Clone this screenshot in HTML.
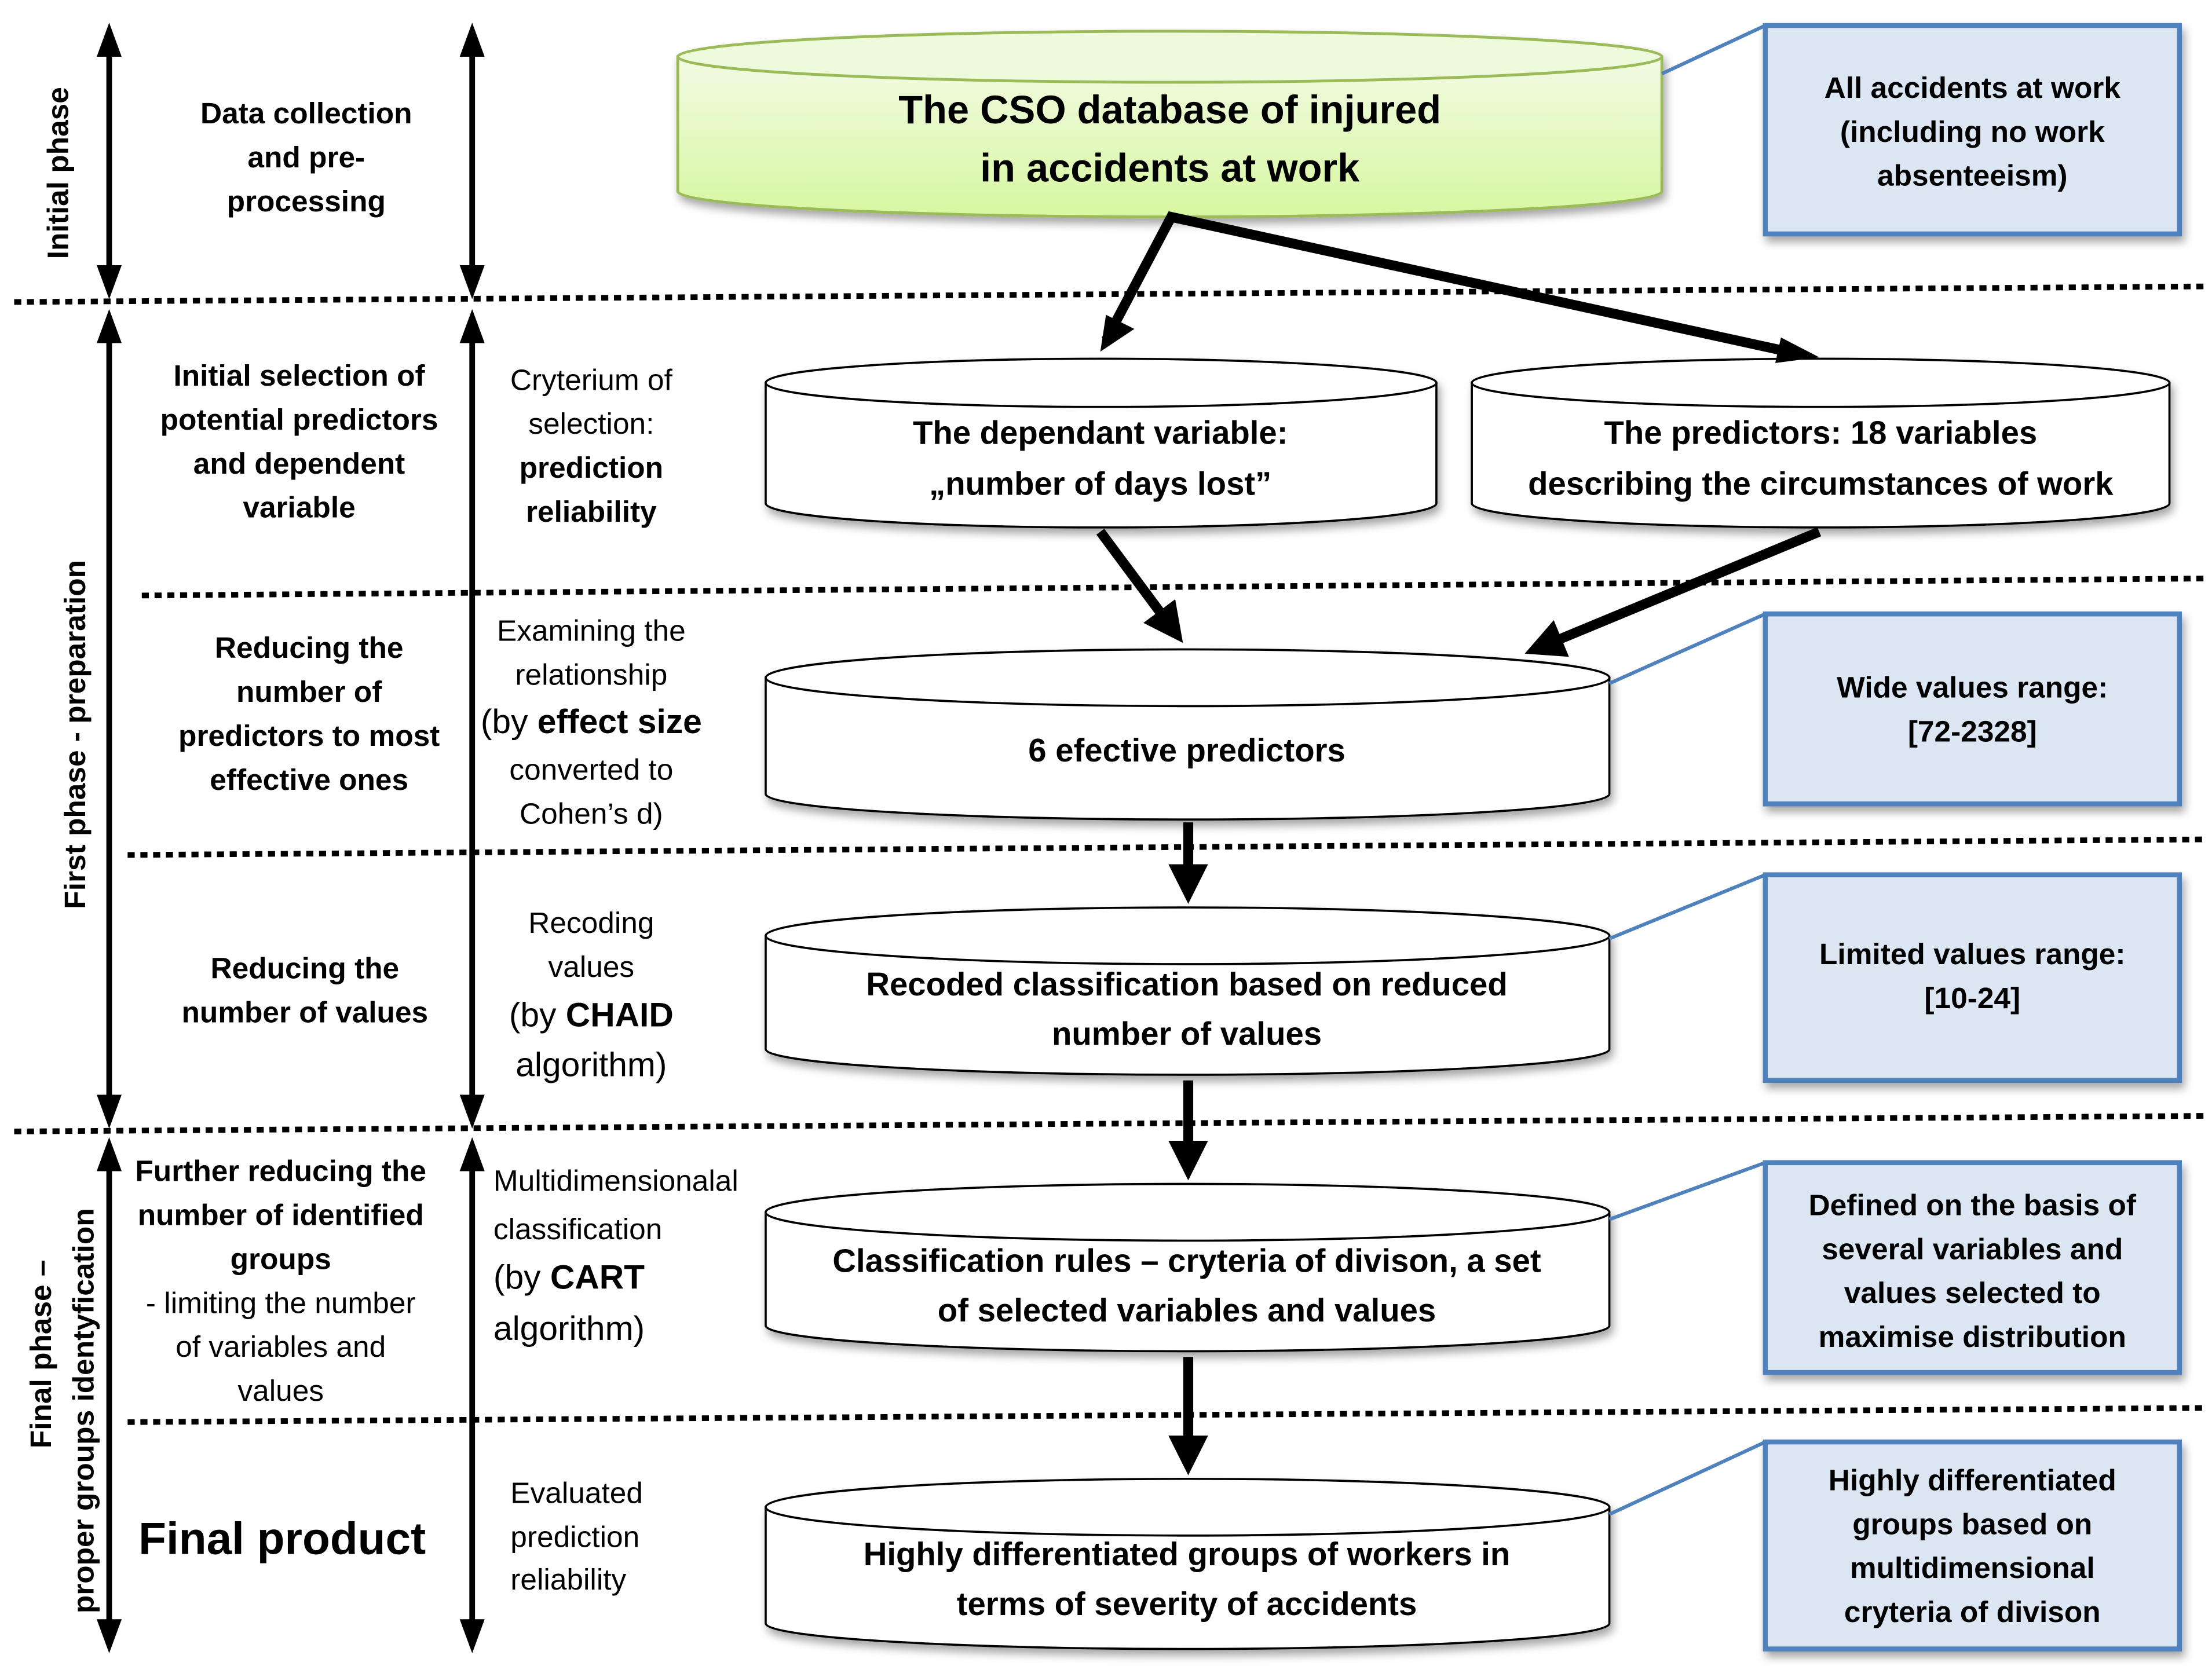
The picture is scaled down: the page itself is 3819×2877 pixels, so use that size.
<!DOCTYPE html>
<html><head><meta charset="utf-8"><style>
html,body{margin:0;padding:0;background:#fff}
svg{display:block}
text{font-family:"Liberation Sans",sans-serif;fill:#000}
.b{font-weight:bold}
</style></head><body>
<svg width="3819" height="2877" viewBox="0 0 1560 1175" preserveAspectRatio="none" xmlns="http://www.w3.org/2000/svg">
<defs>
<linearGradient id="g" x1="0" y1="0" x2="0" y2="1"><stop offset="0" stop-color="#f2fbe4"/><stop offset="1" stop-color="#d7f7a0"/></linearGradient>
<marker id="ah" markerWidth="4" markerHeight="4" refX="2.5" refY="2" orient="auto" markerUnits="strokeWidth"><path d="M0,0 L4,2 L0,4 z" fill="#000"/></marker>
<marker id="vh" markerWidth="6" markerHeight="6" refX="4" refY="3" orient="auto-start-reverse" markerUnits="strokeWidth"><path d="M0,0.8 L6,3 L0,5.2 z" fill="#000"/></marker>
<filter id="sh" x="-5%" y="-10%" width="110%" height="130%"><feDropShadow dx="2" dy="4" stdDeviation="3" flood-opacity="0.35"/></filter>
</defs>

<g stroke="#000" stroke-width="4" stroke-dasharray="5 4" fill="none">
<line x1="10" y1="213" x2="1555" y2="202"/>
<line x1="100" y1="420" x2="1555" y2="408"/>
<line x1="90" y1="603" x2="1555" y2="592"/>
<line x1="10" y1="798" x2="1555" y2="787"/>
<line x1="90" y1="1003" x2="1555" y2="993"/>
</g>

<g stroke="#000" stroke-width="4" fill="none">
<line x1="77" y1="24" x2="77" y2="203" marker-start="url(#vh)" marker-end="url(#vh)"/>
<line x1="77" y1="226" x2="77" y2="788" marker-start="url(#vh)" marker-end="url(#vh)"/>
<line x1="77" y1="810" x2="77" y2="1158" marker-start="url(#vh)" marker-end="url(#vh)"/>
<line x1="333" y1="24" x2="333" y2="203" marker-start="url(#vh)" marker-end="url(#vh)"/>
<line x1="333" y1="226" x2="333" y2="788" marker-start="url(#vh)" marker-end="url(#vh)"/>
<line x1="333" y1="810" x2="333" y2="1158" marker-start="url(#vh)" marker-end="url(#vh)"/>
</g>

<text class="b" font-size="21" text-anchor="middle" transform="translate(48,122) rotate(-90)">Initial phase</text>
<text class="b" font-size="21" text-anchor="middle" transform="translate(60,518) rotate(-90)">First phase - preparation</text>
<text class="b" font-size="21" text-anchor="middle" transform="translate(36,955) rotate(-90)">Final phase –</text>
<text class="b" font-size="21" text-anchor="middle" transform="translate(66,995) rotate(-90)">proper groups identyfication</text>

<g class="b" font-size="21" text-anchor="middle">
<text x="216" y="87">Data collection</text><text x="216" y="118">and pre-</text><text x="216" y="149">processing</text>
<text x="211" y="272">Initial selection of</text><text x="211" y="303">potential predictors</text><text x="211" y="334">and dependent</text><text x="211" y="365">variable</text>
<text x="218" y="464">Reducing the</text><text x="218" y="495">number of</text><text x="218" y="526">predictors to most</text><text x="218" y="557">effective ones</text>
<text x="215" y="690">Reducing the</text><text x="215" y="721">number of values</text>
<text x="198" y="833">Further reducing the</text><text x="198" y="864">number of identified</text><text x="198" y="895">groups</text>
</g>
<g font-size="21" text-anchor="middle">
<text x="198" y="926">- limiting the number</text><text x="198" y="957">of variables and</text><text x="198" y="988">values</text>
</g>
<text class="b" x="199" y="1096" font-size="32" text-anchor="middle">Final product</text>

<g font-size="21" text-anchor="middle">
<text x="417" y="275">Cryterium of</text><text x="417" y="306">selection:</text>
<text x="417" y="337" class="b">prediction</text><text x="417" y="368" class="b">reliability</text>
<text x="417" y="452">Examining the</text><text x="417" y="483">relationship</text>
<text x="417" y="517" font-size="24">(by <tspan class="b">effect size</tspan></text>
<text x="417" y="550">converted to</text><text x="417" y="581">Cohen’s d)</text>
<text x="417" y="658">Recoding</text><text x="417" y="689">values</text>
<text x="417" y="724" font-size="24">(by <tspan class="b">CHAID</tspan></text>
<text x="417" y="759" font-size="24">algorithm)</text>
</g>
<g font-size="21">
<text x="348" y="840">Multidimensionalal</text><text x="348" y="874">classification</text>
<text x="348" y="909" font-size="24">(by <tspan class="b">CART</tspan></text>
<text x="348" y="945" font-size="24">algorithm)</text>
<text x="360" y="1060">Evaluated</text><text x="360" y="1091">prediction</text><text x="360" y="1121">reliability</text>
</g>

<g filter="url(#sh)">
<path d="M478,40 L478,135 A347,18 0 0 0 1172,135 L1172,40 Z" fill="url(#g)" stroke="#9bbb59" stroke-width="2"/>
<ellipse cx="825" cy="40" rx="347" ry="18" fill="#eefadc" stroke="#9bbb59" stroke-width="2"/>
</g>
<g fill="#fff" stroke="#000" stroke-width="1.5" filter="url(#sh)">
<path d="M540,270 L540,355 A236.5,17 0 0 0 1013,355 L1013,270 Z"/><ellipse cx="776.5" cy="270" rx="236.5" ry="17"/>
<path d="M1038,270 L1038,355 A246,17 0 0 0 1530,355 L1530,270 Z"/><ellipse cx="1284" cy="270" rx="246" ry="17"/>
<path d="M540,478 L540,560 A297.5,18 0 0 0 1135,560 L1135,478 Z"/><ellipse cx="837.5" cy="478" rx="297.5" ry="20"/>
<path d="M540,660 L540,740 A297.5,18 0 0 0 1135,740 L1135,660 Z"/><ellipse cx="837.5" cy="660" rx="297.5" ry="20"/>
<path d="M540,855 L540,935 A297.5,18 0 0 0 1135,935 L1135,855 Z"/><ellipse cx="837.5" cy="855" rx="297.5" ry="20"/>
<path d="M540,1063 L540,1145 A297.5,18 0 0 0 1135,1145 L1135,1063 Z"/><ellipse cx="837.5" cy="1063" rx="297.5" ry="20"/>
</g>
<g class="b" text-anchor="middle">
<text x="825" y="87" font-size="28">The CSO database of injured</text>
<text x="825" y="128" font-size="28">in accidents at work</text>
<text x="776" y="313" font-size="23">The dependant variable:</text>
<text x="776" y="349" font-size="23">„number of days lost”</text>
<text x="1284" y="313" font-size="23">The predictors: 18 variables</text>
<text x="1284" y="349" font-size="23">describing the circumstances of work</text>
<text x="837" y="537" font-size="23">6 efective predictors</text>
<text x="837" y="702" font-size="23">Recoded classification  based on reduced</text>
<text x="837" y="737" font-size="23">number of values</text>
<text x="837" y="897" font-size="23">Classification rules – cryteria of divison, a set</text>
<text x="837" y="932" font-size="23">of selected variables and values</text>
<text x="837" y="1104" font-size="23">Highly differentiated groups of workers in</text>
<text x="837" y="1139" font-size="23">terms of severity of accidents</text>
</g>

<g stroke="#000" stroke-width="7" fill="none">
<polyline points="780,240 826,153 1270,250" stroke-linejoin="miter" fill="none"/>
<line x1="776" y1="375" x2="828" y2="445" marker-end="url(#ah)"/>
<line x1="1283" y1="375" x2="1085" y2="457" marker-end="url(#ah)"/>
<line x1="838" y1="580" x2="838" y2="627" marker-end="url(#ah)"/>
<line x1="838" y1="762" x2="838" y2="822" marker-end="url(#ah)"/>
<line x1="838" y1="957" x2="838" y2="1030" marker-end="url(#ah)"/>
</g>
<path d="M776,248 L780,222 L800,232 Z" fill="#000"/>
<path d="M1283,252 L1256,238 L1252,256 Z" fill="#000"/>

<g stroke="#4f81bd" stroke-width="2.5">
<line x1="1245" y1="18" x2="1172" y2="52"/>
<line x1="1245" y1="433" x2="1135" y2="482"/>
<line x1="1245" y1="617" x2="1135" y2="662"/>
<line x1="1245" y1="820" x2="1135" y2="860"/>
<line x1="1245" y1="1017" x2="1135" y2="1068"/>
</g>
<g fill="#dce6f2" stroke="#4f81bd" stroke-width="3.5" filter="url(#sh)">
<rect x="1245" y="18" width="292" height="147"/>
<rect x="1245" y="433" width="292" height="134"/>
<rect x="1245" y="617" width="292" height="145"/>
<rect x="1245" y="820" width="292" height="148"/>
<rect x="1245" y="1017" width="292" height="146"/>
</g>
<g class="b" font-size="21" text-anchor="middle">
<text x="1391" y="69">All accidents at work</text><text x="1391" y="100">(including no work</text><text x="1391" y="131">absenteeism)</text>
<text x="1391" y="492">Wide values range:</text><text x="1391" y="523">[72-2328]</text>
<text x="1391" y="680">Limited values range:</text><text x="1391" y="711">[10-24]</text>
<text x="1391" y="857">Defined on the basis of</text><text x="1391" y="888">several variables and</text><text x="1391" y="919">values selected to</text><text x="1391" y="950">maximise distribution</text>
<text x="1391" y="1051">Highly differentiated</text><text x="1391" y="1082">groups based  on</text><text x="1391" y="1113">multidimensional</text><text x="1391" y="1144">cryteria of divison</text>
</g>
</svg>
</body></html>
